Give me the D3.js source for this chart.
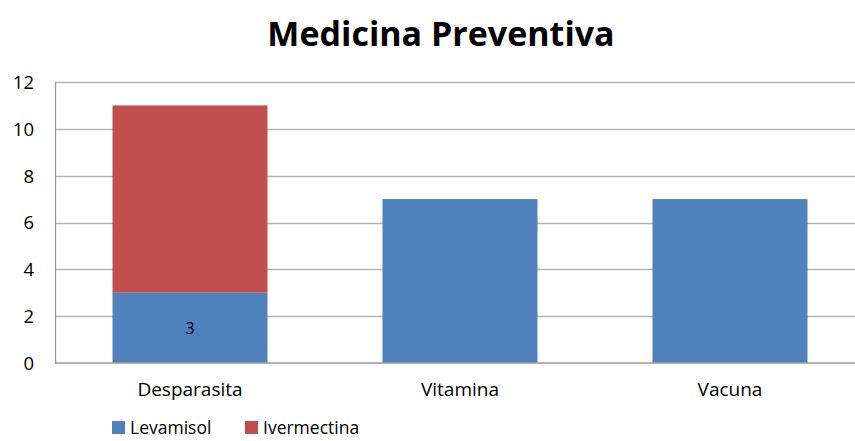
<!DOCTYPE html>
<html>
<head>
<meta charset="utf-8">
<script src="https://cdn.jsdelivr.net/npm/d3@7"></script>
<style>
  body { margin: 0; background: #fff; }
  text { font-family: "Open Sans", sans-serif; fill: #000; }
</style>
</head>
<body>
<div id="chart"></div>
<script>
const categories = ["Desparasita", "Vitamina", "Vacuna"];
const levamisol = [3, 7, 7];
const ivermectina = [8, 0, 0];
const seriesNames = ["Levamisol", "Ivermectina"];
const yTicks = [0, 2, 4, 6, 8, 10, 12];

const colors = ["#4f81bd", "#c0504d"];
const W = 855, H = 441;
const m = { top: 82, right: -10, bottom: 78, left: 55 };

const svg = d3.select("#chart").append("svg")
    .attr("width", W)
    .attr("height", H);

svg.append("text")
    .attr("x", 441)
    .attr("y", 46)
    .attr("text-anchor", "middle")
    .attr("font-size", "34px")
    .attr("font-weight", "bold")
    .text("Medicina Preventiva");

const x = d3.scaleBand()
    .domain(categories)
    .range([m.left, W - m.right])
    .paddingInner(0.426)
    .paddingOuter(0.213);

const y = d3.scaleLinear()
    .domain([0, 12])
    .range([H - m.bottom, m.top]);

// gridlines
svg.append("g")
    .selectAll("line")
    .data(yTicks.filter(d => d > 0))
    .join("line")
    .attr("x1", m.left)
    .attr("x2", W)
    .attr("y1", d => Math.round(y(d)) + 0.5)
    .attr("y2", d => Math.round(y(d)) + 0.5)
    .attr("stroke", "#b4b4b4")
    .attr("stroke-width", 1.3);

const table = categories.map((c, i) => ({ cat: c, Levamisol: levamisol[i], Ivermectina: ivermectina[i] }));
const stacked = d3.stack().keys(seriesNames)(table);

svg.append("g")
    .selectAll("g")
    .data(stacked)
    .join("g")
    .attr("fill", (d, i) => colors[i])
    .selectAll("rect")
    .data(d => d)
    .join("rect")
    .attr("x", d => x(d.data.cat))
    .attr("width", x.bandwidth())
    .attr("y", d => y(d[1]))
    .attr("height", d => y(d[0]) - y(d[1]));

// data label
svg.append("text")
    .attr("x", x(categories[0]) + x.bandwidth() / 2)
    .attr("y", (y(0) + y(levamisol[0])) / 2 + 6)
    .attr("text-anchor", "middle")
    .attr("font-size", "16px")
    .text(levamisol[0]);

// axes
const yAxis = svg.append("g")
    .attr("transform", `translate(${m.left},0)`)
    .call(d3.axisLeft(y).tickValues(yTicks).tickSize(0).tickPadding(21));
yAxis.select(".domain").attr("stroke", "#9a9a9a").attr("stroke-width", 1.3);
yAxis.selectAll("text").attr("font-size", "18.5px").attr("dy", "0.35em").attr("fill", "#000");

const xAxis = svg.append("g")
    .attr("transform", `translate(0,${y(0)})`)
    .call(d3.axisBottom(x).tickSize(0).tickPadding(20));
xAxis.select(".domain").remove();
xAxis.append("line")
    .attr("x1", m.left).attr("x2", W)
    .attr("stroke", "#9a9a9a").attr("stroke-width", 1.5);
xAxis.selectAll("text").attr("font-size", "19px").attr("fill", "#000");

// legend
const legendX = [112, 245];
const legend = svg.append("g")
    .selectAll("g")
    .data(seriesNames)
    .join("g")
    .attr("transform", (d, i) => `translate(${legendX[i]},421)`);
legend.append("rect")
    .attr("width", 13).attr("height", 13)
    .attr("fill", (d, i) => colors[i]);
legend.append("text")
    .attr("x", 18).attr("y", 13)
    .attr("font-size", "17.5px")
    .text(d => d);
</script>
</body>
</html>
